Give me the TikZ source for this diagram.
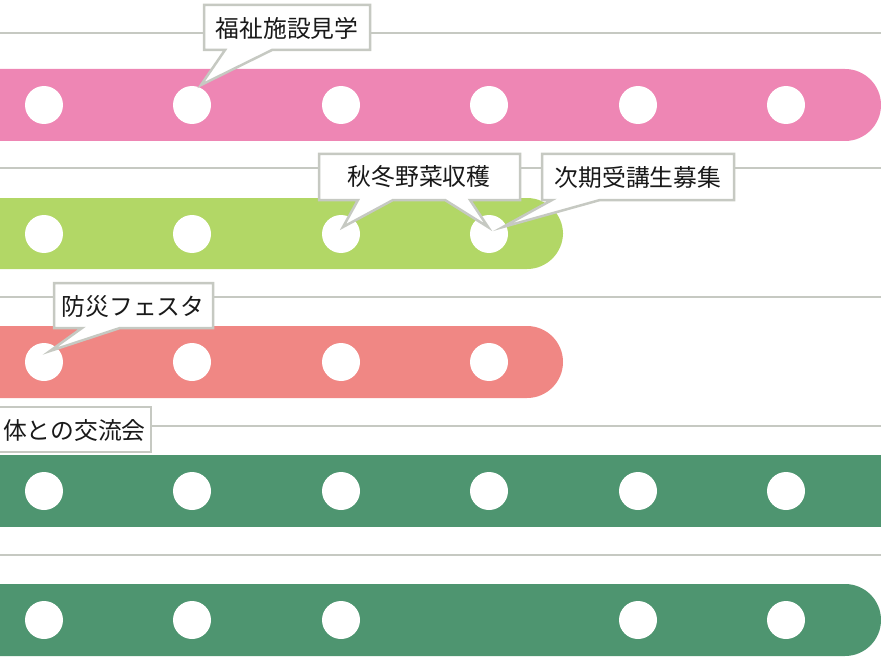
\documentclass[tikz,border=0pt]{standalone}
\usepackage{fontspec}
\newfontfamily\jp{Noto Sans CJK JP}
\definecolor{pinkbar}{HTML}{EE86B4}
\definecolor{limebar}{HTML}{B2D766}
\definecolor{salmonbar}{HTML}{F08784}
\definecolor{greenbar}{HTML}{4E9570}
\definecolor{grayline}{HTML}{C6C9C2}
\tikzset{
  guide/.style={draw=grayline, line width=2pt},
  bar/.style={rounded corners=36pt},
  dot/.style={fill=white},
  callout/.style={fill=white, draw=grayline, line width=2.5pt, line join=miter},
  lbl/.style={font=\jp\fontsize{23.8}{28}\selectfont, text=black!90, inner sep=0pt}
}
\begin{document}
\begin{tikzpicture}[x=1pt,y=-1pt]
\useasboundingbox (0,0) rectangle (881,658);
\clip (0,0) rectangle (881,658);
% guide lines
\foreach \yy in {33,168,297,426,555}
  \draw[guide] (0,\yy) -- (881,\yy);
% bars
\fill[pinkbar,bar] (-60,69) rectangle (881,141);
\fill[limebar,bar] (-60,198) rectangle (563,269);
\fill[salmonbar,bar] (-60,326) rectangle (563,398);
\fill[greenbar] (-60,455) rectangle (900,527);
\fill[greenbar,bar] (-60,584) rectangle (881,656);
% dots
\foreach \xx in {44,192,341,489,638,786} {
  \fill[dot] (\xx,105) circle (19);
  \fill[dot] (\xx,491) circle (19);
}
\foreach \xx in {44,192,341,489} {
  \fill[dot] (\xx,234) circle (19);
  \fill[dot] (\xx,362) circle (19);
}
\foreach \xx in {44,192,341,638,786}
  \fill[dot] (\xx,620) circle (19);
% callouts
\draw[callout] (204,5) -- (370,5) -- (370,50) -- (272,50) -- (201,85) -- (225,50) -- (204,50) -- cycle;
\node[lbl] (c1) at (287,28) {福祉施設見学};
\draw[callout] (319,154) -- (520,154) -- (520,200) -- (470,200) -- (488,227) -- (445,200)
  -- (393,200) -- (343,227) -- (358,200) -- (319,200) -- cycle;
\node[lbl] (c2) at (419,177) {秋冬野菜収穫};
\draw[callout] (542,154) -- (734,154) -- (734,200) -- (600,200) -- (503,227) -- (552,200) -- (542,200) -- cycle;
\node[lbl] (c3) at (638,177) {次期受講生募集};
\draw[callout] (54,283) -- (213,283) -- (213,328) -- (120,328) -- (50,351) -- (82,328) -- (54,328) -- cycle;
\node[lbl] (c4) at (133,306) {防災フェスタ};
\draw[callout] (-20,407) -- (151,407) -- (151,452) -- (-20,452) -- cycle;
\node[lbl,anchor=west] (c5) at (3,430) {体との交流会};
\end{tikzpicture}
\end{document}
